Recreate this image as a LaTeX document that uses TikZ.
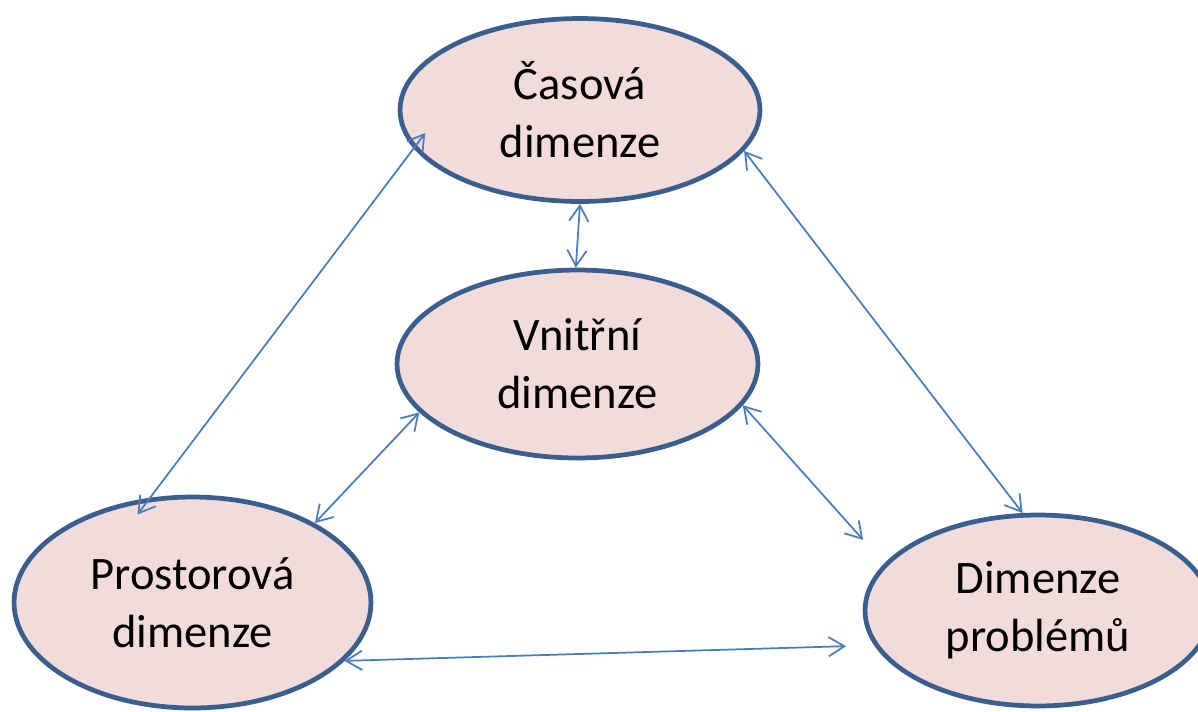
\documentclass[tikz,border=0pt]{standalone}
\usepackage{fontspec}
\setmainfont{Carlito}
\usepackage{tikz}
\usetikzlibrary{shapes.geometric,arrows.meta}

\definecolor{dimborder}{HTML}{3A5F8F}
\definecolor{dimfill}{HTML}{F2DCDB}
\definecolor{linkblue}{HTML}{4A7EBB}

\begin{document}
\begin{tikzpicture}[
    x=0.02cm, y=-0.02cm,
    dim/.style={ellipse, draw=dimborder, fill=dimfill, line width=2.7pt, inner sep=0pt, align=center, font=\fontsize{26.5}{33}\selectfont},  % Style for the ellipses
    link/.style={{Straight Barb[length=9pt,width=11pt]}-{Straight Barb[length=9pt,width=11pt]}, draw=linkblue, line width=1pt}  % Style for the double arrows
    ]

    \useasboundingbox (0,0) rectangle (1198,711);

    % The four dimensions
    \node[dim, minimum width=7.2cm, minimum height=3.66cm] (cas) at (580,110) {Časová\\dimenze};
    \node[dim, minimum width=7.22cm, minimum height=3.76cm] (vnit) at (577.5,364) {Vnitřní\\dimenze};
    \node[dim, minimum width=7.14cm, minimum height=4.22cm] (pros) at (192.5,602.5) {Prostorová\\dimenze};
    \node[dim, minimum width=6.92cm, minimum height=3.82cm] (prob) at (1038,610.5) {Dimenze\\problémů};

    % Links between the dimensions
    \draw[link, shorten <=-11pt, shorten >=-12pt] (cas.193) -- (pros.112);
    \draw[link] (cas.346) -- (prob.99);
    \draw[link] (cas.south) -- (vnit.91);
    \draw[link] (vnit.197) -- (pros.33);
    \draw[link, shorten >=18pt] (vnit.346) -- (prob.163);
    \draw[link, shorten >=16pt] (pros.339) -- (prob.192);

\end{tikzpicture}
\end{document}
